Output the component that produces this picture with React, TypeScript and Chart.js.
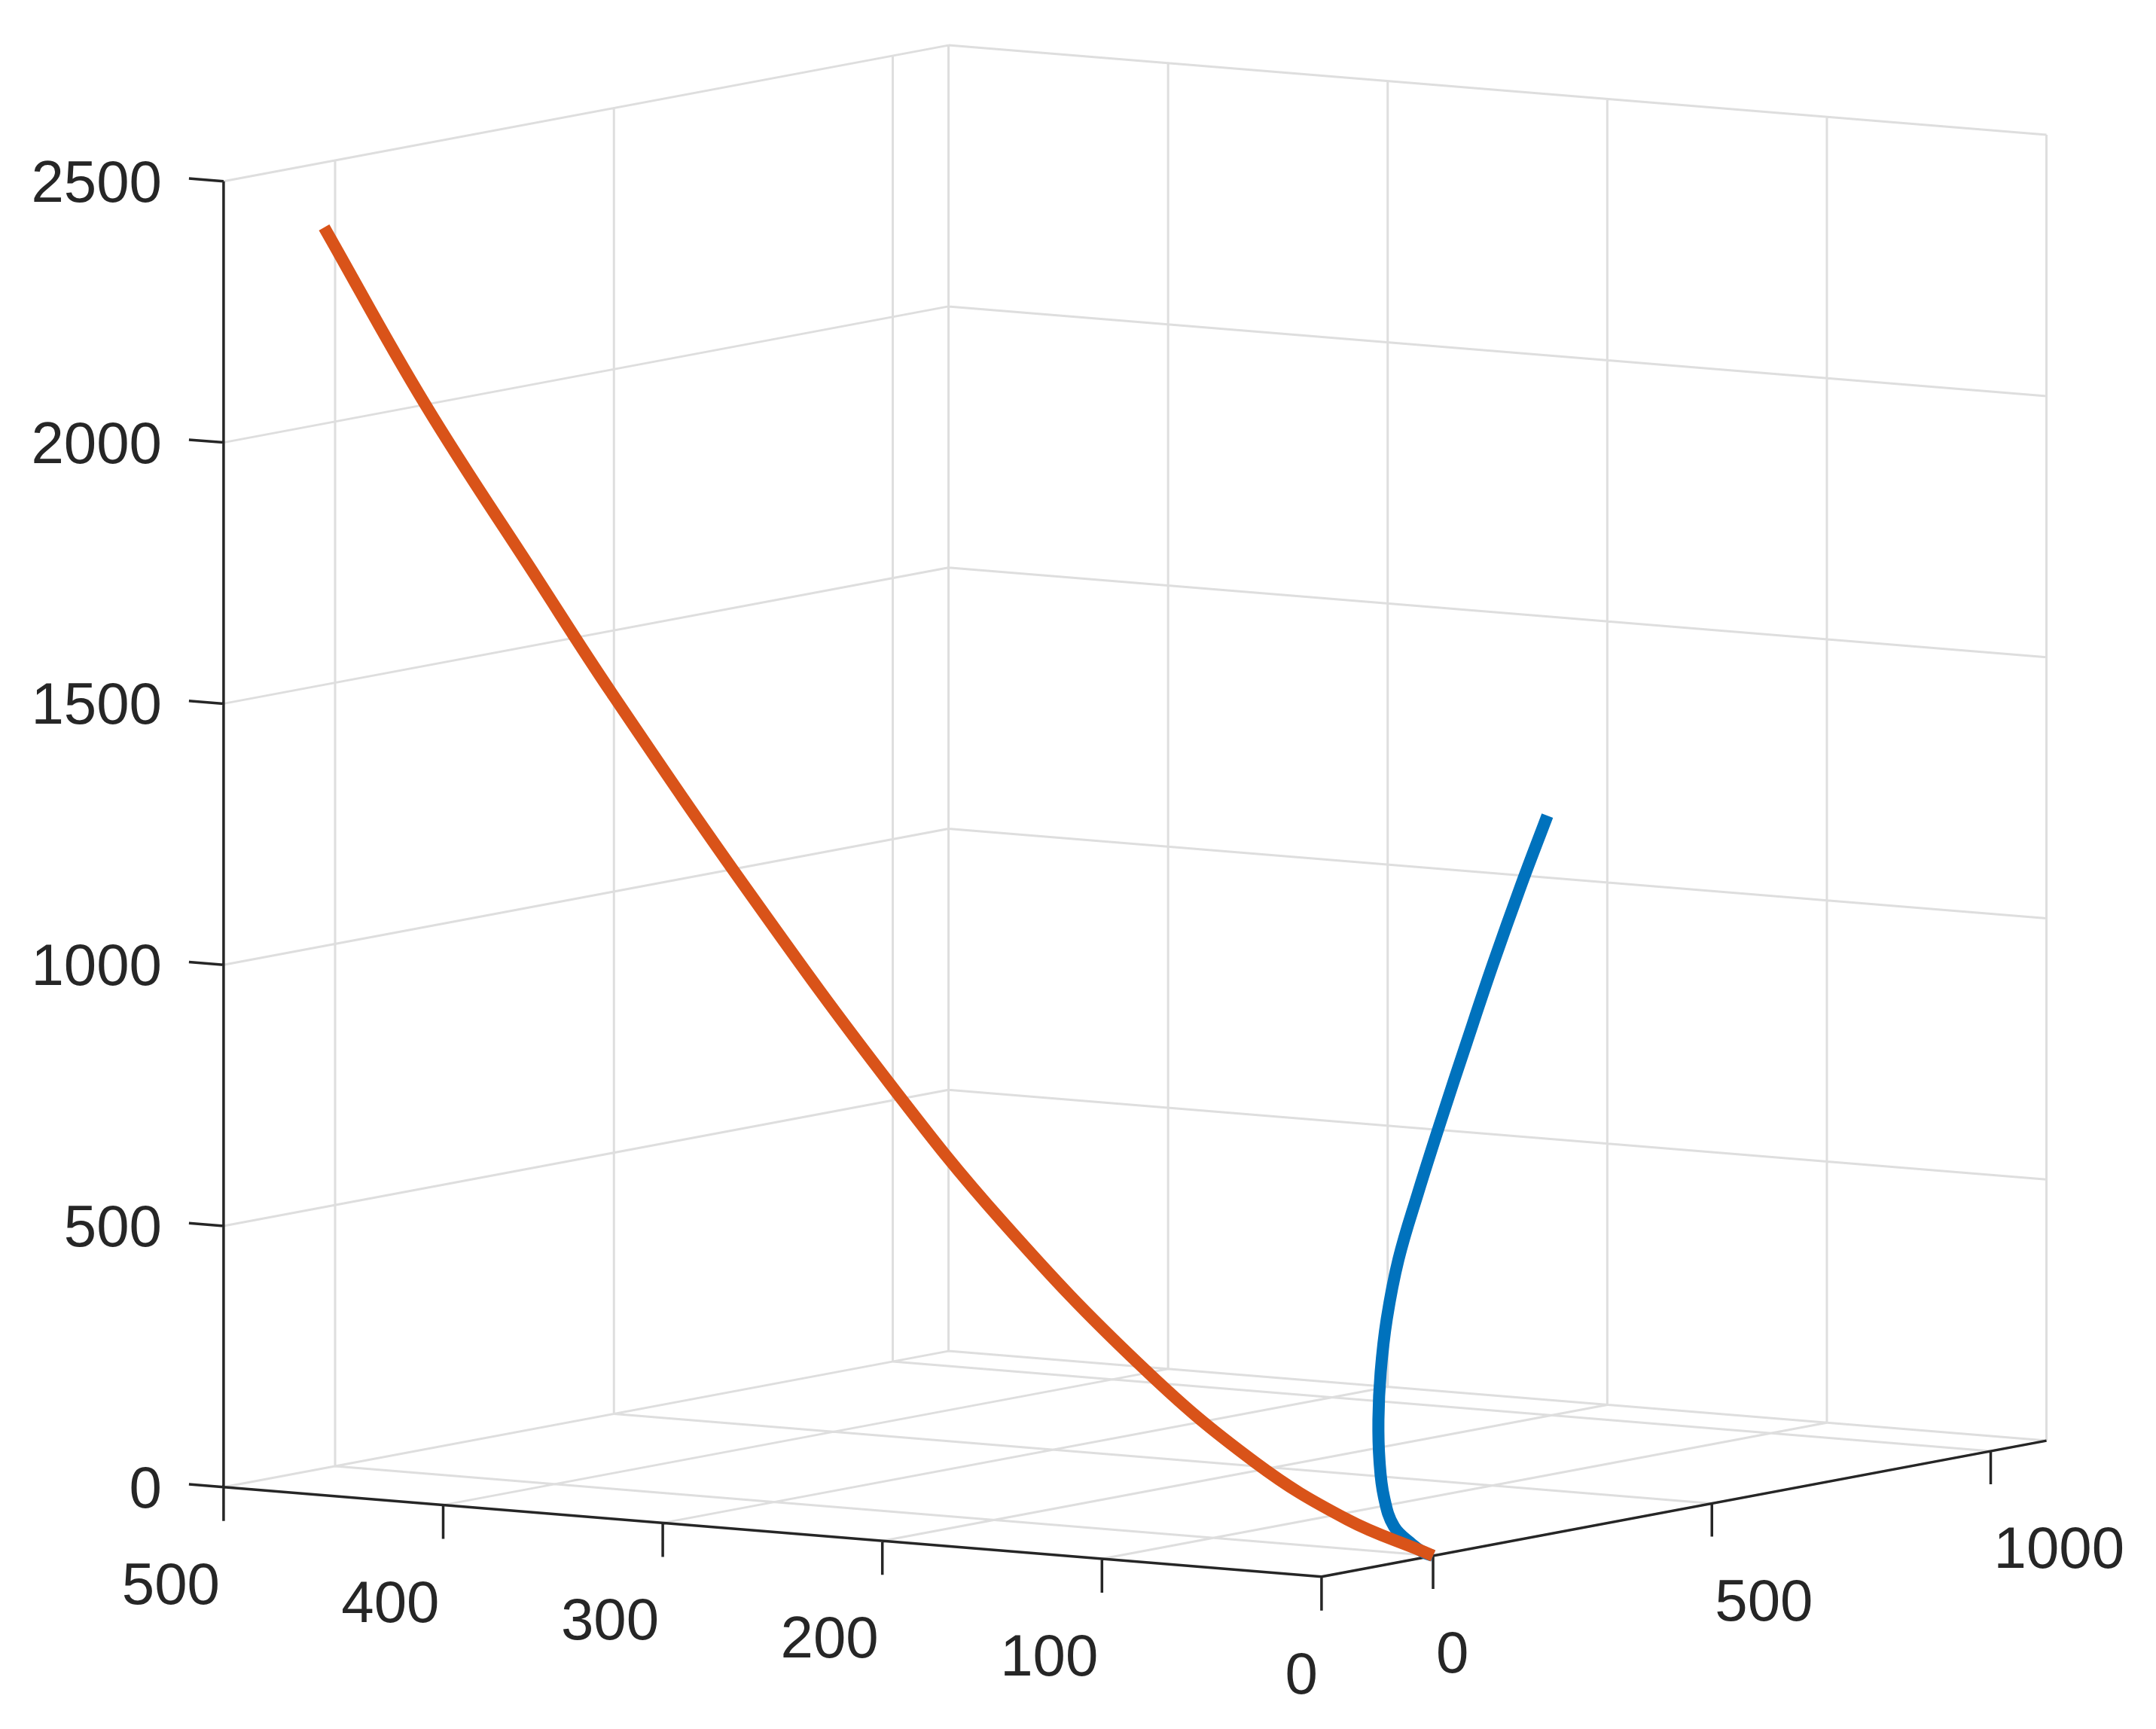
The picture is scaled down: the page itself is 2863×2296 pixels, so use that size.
import React, { useEffect, useRef } from "react";
import { Chart, registerables } from "chart.js";

Chart.register(...registerables);

// ---------- axis limits and ticks ----------
const xLim = [0, 500];
const yLim = [-200, 1100];
const zLim = [0, 2500];
const xTicks = [0, 100, 200, 300, 400, 500];
const yTicks = [0, 500, 1000];
const zTicks = [0, 500, 1000, 1500, 2000, 2500];

// ---------- series 1 (blue) : 3D points ----------
const blueX = [0, 0, 0, 0, 0, 0, 0, 0, 0, 0, 0, 0, 0, 0, 0, 0];
const blueY = [0, -17, -38, -70, -88, -96, -98, -94, -83, -62, -27, 14, 60, 107, 157, 205];
const blueZ = [0, 10, 30, 70, 130, 200, 280, 370, 470, 580, 700, 830, 970, 1110, 1250, 1376];

// ---------- series 2 (orange) : 3D points ----------
const orangeX = [0, 4, 39, 81, 133, 196, 247, 310, 374, 408, 459, 505];
const orangeY = [0, 0, 0, 0, 0, 0, 0, 0, 0, 0, 0, 0];
const orangeZ = [0, 6, 56, 151, 318, 572, 817, 1155, 1523, 1731, 2047, 2370];

// ---------- view (orthographic projection of the 3D box) ----------
const W = 2863;
const H = 2296;
const ORIGIN = { u: 1903, v: 2066 }; // screen position of (0,0,0)
const EX = { u: -2.916, v: -0.238 }; // per unit of x
const EY = { u: 0.7405, v: -0.139 }; // per unit of y
const EZ = { u: 0, v: -0.6936 }; // per unit of z

const FONT = '78px "Liberation Sans", Arial, Helvetica, sans-serif';
const TEXT = "#262626";
const BLUE = "#0072BD";
const ORANGE = "#D95319";

type P = { x: number | null; y: number | null };

function proj(x: number, y: number, z: number): { x: number; y: number } {
  return {
    x: ORIGIN.u + x * EX.u + y * EY.u + z * EZ.u,
    y: ORIGIN.v + x * EX.v + y * EY.v + z * EZ.v,
  };
}

const GAP: P = { x: null, y: null };

function buildGrid(): P[] {
  const pts: P[] = [];
  const seg = (a: number[], b: number[]) => {
    pts.push(proj(a[0], a[1], a[2]), proj(b[0], b[1], b[2]), GAP);
  };
  const [x0, x1] = xLim;
  const [y0, y1] = yLim;
  const [z0, z1] = zLim;
  // floor
  xTicks.forEach((t) => seg([t, y0, z0], [t, y1, z0]));
  yTicks.forEach((t) => seg([x0, t, z0], [x1, t, z0]));
  // back-left wall (x = max)
  yTicks.forEach((t) => seg([x1, t, z0], [x1, t, z1]));
  zTicks.forEach((t) => seg([x1, y0, t], [x1, y1, t]));
  // back-right wall (y = max)
  xTicks.forEach((t) => seg([t, y1, z0], [t, y1, z1]));
  zTicks.forEach((t) => seg([x0, y1, t], [x1, y1, t]));
  return pts;
}

function buildAxes(): P[] {
  const pts: P[] = [];
  const [x0, x1] = xLim;
  const [y0, y1] = yLim;
  const [z0, z1] = zLim;
  const line = (a: { x: number; y: number }, b: { x: number; y: number }) => {
    pts.push(a, b, GAP);
  };
  line(proj(x1, y0, z0), proj(x0, y0, z0)); // x axis
  line(proj(x0, y0, z0), proj(x0, y1, z0)); // y axis
  line(proj(x1, y0, z0), proj(x1, y0, z1)); // z axis
  // tick marks
  zTicks.forEach((t) => {
    const p = proj(x1, y0, t);
    line(p, { x: p.x - 46, y: p.y - 3.7 });
  });
  xTicks.forEach((t) => {
    const p = proj(t, y0, z0);
    line(p, { x: p.x, y: p.y + 45 });
  });
  yTicks.forEach((t) => {
    const p = proj(x0, t, z0);
    line(p, { x: p.x, y: p.y + 44 });
  });
  return pts;
}

function buildSeries(xs: number[], ys: number[], zs: number[]): P[] {
  return xs.map((x, i) => proj(x, ys[i], zs[i]));
}

const labelPlugin = {
  id: "tickLabels3d",
  afterDraw(chart: any) {
    const ctx = chart.ctx;
    const sx = chart.scales.x;
    const sy = chart.scales.y;
    const px = (p: { x: number; y: number }) => ({
      x: sx.getPixelForValue(p.x),
      y: sy.getPixelForValue(p.y),
    });
    ctx.save();
    ctx.font = FONT;
    ctx.fillStyle = TEXT;
    ctx.textBaseline = "alphabetic";
    // z labels
    ctx.textAlign = "right";
    zTicks.forEach((t) => {
      const p = px(proj(xLim[1], yLim[0], t));
      ctx.fillText(String(t), p.x - 82, p.y + 27);
    });
    // x labels
    xTicks.forEach((t) => {
      const p = px(proj(t, yLim[0], zLim[0]));
      ctx.fillText(String(t), p.x - 5, p.y + 155);
    });
    // y labels
    ctx.textAlign = "left";
    yTicks.forEach((t) => {
      const p = px(proj(xLim[0], t, zLim[0]));
      ctx.fillText(String(t), p.x + 4, p.y + 155);
    });
    ctx.restore();
  },
};

export default function App() {
  const ref = useRef<HTMLCanvasElement>(null);

  useEffect(() => {
    const canvas = ref.current;
    if (!canvas) return;
    const chart = new Chart(canvas, {
      type: "scatter",
      data: {
        datasets: [
          {
            label: "series2",
            data: buildSeries(orangeX, orangeY, orangeZ) as any,
            showLine: true,
            borderColor: ORANGE,
            borderWidth: 16,
            tension: 0.4,
            pointRadius: 0,
            borderJoinStyle: "round",
            order: 0,
          },
          {
            label: "series1",
            data: buildSeries(blueX, blueY, blueZ) as any,
            showLine: true,
            borderColor: BLUE,
            borderWidth: 16,
            tension: 0.4,
            pointRadius: 0,
            borderJoinStyle: "round",
            order: 1,
          },
          {
            label: "axes",
            data: buildAxes() as any,
            showLine: true,
            borderColor: TEXT,
            borderWidth: 3.5,
            tension: 0,
            pointRadius: 0,
            spanGaps: false,
            order: 2,
          },
          {
            label: "grid",
            data: buildGrid() as any,
            showLine: true,
            borderColor: "#dedede",
            borderWidth: 3,
            tension: 0,
            pointRadius: 0,
            spanGaps: false,
            order: 3,
          },
        ],
      },
      options: {
        animation: false,
        responsive: false,
        maintainAspectRatio: false,
        events: [],
        layout: { padding: 0 },
        plugins: {
          legend: { display: false },
          tooltip: { enabled: false },
        },
        elements: { point: { radius: 0, hoverRadius: 0 } },
        scales: {
          x: { type: "linear", min: 0, max: W, display: false },
          y: { type: "linear", min: 0, max: H, reverse: true, display: false },
        },
      },
      plugins: [labelPlugin],
    });
    return () => chart.destroy();
  }, []);

  return (
    <div
      style={{
        position: "fixed",
        left: 0,
        top: 0,
        width: W + "px",
        height: H + "px",
        background: "#ffffff",
      }}
    >
      <canvas
        ref={ref}
        width={W}
        height={H}
        style={{ width: W + "px", height: H + "px", display: "block" }}
      />
    </div>
  );
}
